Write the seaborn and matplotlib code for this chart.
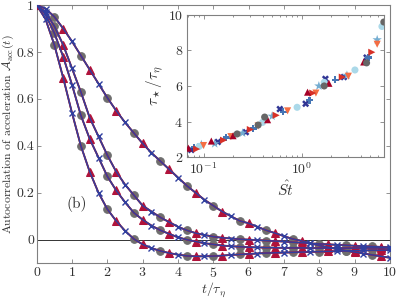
import matplotlib
matplotlib.use('Agg')
import matplotlib.pyplot as plt
import numpy as np
import seaborn as sns

sns.set_theme(style='ticks')
plt.rcParams['font.family'] = 'serif'
plt.rcParams['font.serif'] = ['cmr10', 'DejaVu Serif']
plt.rcParams['mathtext.fontset'] = 'cm'
plt.rcParams['axes.unicode_minus'] = False
plt.rcParams['axes.formatter.use_mathtext'] = True

# main panel: acceleration autocorrelation, t / tau_eta sampled every 0.25
t = np.arange(0, 10.01, 0.25)
acc_a = [1.00, 0.94, 0.83, 0.69, 0.54, 0.40, 0.29, 0.20, 0.13, 0.08, 0.038, 0.003,
         -0.02, -0.036, -0.048, -0.057, -0.064, -0.069, -0.071, -0.071, -0.07, -0.068,
         -0.065, -0.063, -0.061, -0.059, -0.057, -0.056, -0.055, -0.054, -0.053, -0.052,
         -0.051, -0.05, -0.049, -0.048, -0.047, -0.046, -0.045, -0.045, -0.044]
acc_b = [1.00, 0.96, 0.88, 0.78, 0.66, 0.53, 0.43, 0.35, 0.27, 0.21, 0.16, 0.115,
         0.085, 0.06, 0.04, 0.025, 0.01, 0.0, -0.008, -0.015, -0.02, -0.025,
         -0.028, -0.03, -0.032, -0.033, -0.034, -0.034, -0.035, -0.035, -0.035, -0.036,
         -0.036, -0.036, -0.036, -0.036, -0.036, -0.035, -0.035, -0.035, -0.035]
acc_c = [1.00, 0.97, 0.91, 0.83, 0.73, 0.63, 0.52, 0.44, 0.36, 0.29, 0.235, 0.19,
         0.145, 0.12, 0.095, 0.075, 0.055, 0.04, 0.028, 0.02, 0.013, 0.008,
         0.005, 0.002, 0.0, -0.002, -0.004, -0.006, -0.008, -0.011, -0.013, -0.016,
         -0.018, -0.02, -0.022, -0.024, -0.026, -0.028, -0.029, -0.031, -0.032]
acc_d = [1.00, 0.985, 0.95, 0.90, 0.845, 0.785, 0.725, 0.665, 0.605, 0.55, 0.50, 0.455,
         0.41, 0.37, 0.335, 0.30, 0.265, 0.23, 0.20, 0.17, 0.145, 0.12,
         0.10, 0.08, 0.07, 0.055, 0.04, 0.028, 0.015, 0.003, -0.005, -0.015,
         -0.025, -0.032, -0.04, -0.047, -0.053, -0.059, -0.065, -0.071, -0.077]
curves = [acc_a, acc_b, acc_c, acc_d]

# inset: tau_star / tau_eta against St hat, one list pair per marker group
st_dred = [0.07, 0.12, 0.2, 0.45, 1.15, 1.9, 4.3]
ts_dred = [2.5, 2.9, 3.2, 4.1, 5.65, 6.15, 7.35]
st_red = [0.085, 0.16, 0.3, 0.55, 1.3, 2.6, 5.2]
ts_red = [2.45, 2.95, 3.55, 4.35, 5.6, 6.5, 7.9]
st_org = [0.1, 0.19, 0.36, 0.72, 1.4, 3.0, 5.9]
ts_org = [2.65, 3.15, 3.75, 4.6, 5.6, 6.55, 8.35]
st_lblue = [0.09, 0.4, 0.9, 1.7, 3.5, 6.6]
ts_lblue = [2.6, 3.95, 4.8, 6.2, 6.9, 9.35]
st_star = [0.095, 0.13, 0.25, 0.5, 1.5, 2.9, 5.9]
ts_star = [2.7, 2.75, 3.35, 4.3, 6.0, 6.6, 8.6]
st_plus = [0.08, 0.17, 0.32, 0.65, 1.2, 2.2, 4.8]
ts_plus = [2.55, 3.1, 3.6, 4.55, 5.2, 6.35, 7.6]
st_dblue = [0.075, 0.14, 0.27, 0.6, 1.1, 1.75, 2.7, 4.6]
ts_dblue = [2.4, 2.85, 3.4, 4.7, 5.0, 6.4, 6.5, 7.6]
st_grey = [0.22, 0.36, 0.42, 1.7, 4.6, 6.9]
ts_grey = [3.3, 3.8, 4.25, 6.0, 7.3, 9.6]

fig = plt.figure(figsize=(3.99, 2.98), dpi=100)
ax = fig.add_axes([0.092, 0.117, 0.885, 0.866])

red = '#b0123a'
blue = '#303f9f'
grey = '#6e6e6e'
for vals in curves:
    sns.lineplot(x=t, y=vals, ax=ax, color=grey, lw=1.3, marker='o', ms=5.5,
                 mec=grey, mfc=grey, markevery=(2, 3), zorder=2)
    sns.lineplot(x=t, y=vals, ax=ax, color=red, lw=1.3, marker='^', ms=5.5,
                 mec=red, mfc=red, markevery=(0, 3), zorder=3)
    sns.lineplot(x=t, y=vals, ax=ax, color=blue, lw=1.0, marker='x', ms=4.5,
                 mec=blue, mew=1.0, markevery=(1, 3), zorder=4)
ax.axhline(0, color='#333333', lw=0.7, zorder=1)

ax.set_xlim(0, 10)
ax.set_ylim(-0.1, 1)
ax.set_xticks(range(11))
ax.set_yticks([0, 0.2, 0.4, 0.6, 0.8, 1])
ax.set_yticklabels(['0', '0.2', '0.4', '0.6', '0.8', '1'])
ax.tick_params(direction='in', top=True, right=True, labelsize=10,
               length=3, width=0.6, color='#808080', colors='#333333', pad=2)
for s in ax.spines.values():
    s.set_color('#808080')
    s.set_linewidth(0.8)
ax.set_xlabel(r'$t/\tau_\eta$', fontsize=10, labelpad=0, color='#333333')
ax.set_ylabel(r'Autocorrelation of acceleration $\mathcal{A}_{\rm acc}(t)$',
              fontsize=8.5, labelpad=0, color='#333333')
ax.text(1.12, 0.15, '(b)', fontsize=11, ha='center', va='center', color='#333333')

ins = fig.add_axes([0.469, 0.473, 0.493, 0.477])
groups = [
    (st_dblue, ts_dblue, '#313695', 'X'),
    (st_plus, ts_plus, '#4575b4', 'P'),
    (st_star, ts_star, '#74add1', '*'),
    (st_lblue, ts_lblue, '#abd9e9', 'o'),
    (st_org, ts_org, '#f46d43', 'v'),
    (st_red, ts_red, '#d73027', '>'),
    (st_dred, ts_dred, '#a50026', '^'),
    (st_grey, ts_grey, '#666666', 'o'),
]
for xs, ys, col, mk in groups:
    size = 50 if mk == '*' else 26
    sns.scatterplot(x=xs, y=ys, ax=ins, color=col, marker=mk, s=size,
                    edgecolor='none', zorder=3)
ins.set_xscale('log')
ins.set_xlim(0.068, 6.9)
ins.set_ylim(2, 10)
ins.set_yticks([2, 4, 6, 8, 10])
ins.tick_params(which='both', direction='in', top=True, right=True, labelsize=10,
                color='#808080', colors='#333333', width=0.6, pad=3)
ins.tick_params(which='major', length=3)
ins.tick_params(which='minor', length=1.5)
for s in ins.spines.values():
    s.set_color('#808080')
    s.set_linewidth(0.8)
ins.set_xlabel(r'$\hat{St}$', fontsize=11, labelpad=2, color='#333333')
ins.set_ylabel(r'$\tau_\star/\tau_\eta$', fontsize=11, labelpad=1, color='#333333')

fig.savefig('out.png', dpi=100)
